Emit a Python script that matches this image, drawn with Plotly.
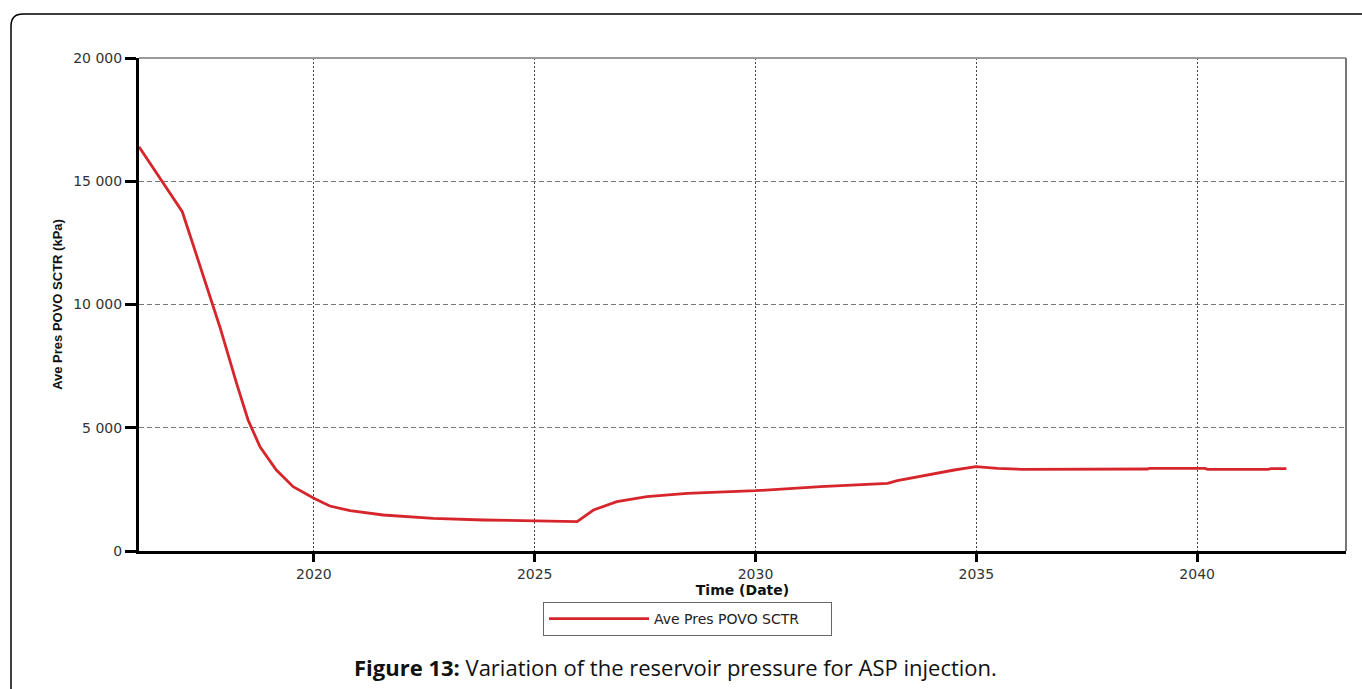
import plotly.graph_objects as go

# Data (decimal years, kPa)
years = [2016.04, 2016.5, 2017.02, 2017.23, 2017.64, 2017.87, 2018.25, 2018.51, 2018.78,
         2019.15, 2019.53, 2020.0, 2020.36, 2020.82, 2021.57, 2022.7, 2023.84, 2024.97,
         2025.96, 2026.33, 2026.86, 2027.54, 2028.45, 2030.0, 2031.47, 2032.99, 2033.21,
         2034.5, 2034.99, 2035.48, 2036.05, 2038.88, 2038.92, 2040.17, 2040.24, 2041.6,
         2041.68, 2042.02]
pressure = [16400, 15150, 13765, 12617, 10316, 9099, 6803, 5314, 4231,
            3286, 2609, 2138, 1826, 1635, 1460, 1325, 1258, 1217,
            1189, 1663, 2000, 2203, 2340, 2446, 2609, 2746, 2852,
            3286, 3420, 3355, 3314, 3327, 3355, 3355, 3314, 3314,
            3340, 3340]

x_ticks = [2020, 2025, 2030, 2035, 2040]
y_ticks = [0, 5000, 10000, 15000, 20000]
y_tick_text = ["0", "5 000", "10 000", "15 000", "20 000"]
series_name = "Ave Pres POVO SCTR"

W, H = 1362, 689
L, R, T, B = 139, 1346, 58, 551
pw, ph = R - L, B - T

def px(xp):
    return (xp - L) / pw

def py(yp):
    return (B - yp) / ph

fig = go.Figure()
fig.add_trace(go.Scatter(
    x=years, y=pressure, mode="lines", name=series_name,
    line=dict(color="#d7262b", width=2.8),
))

fig.update_layout(
    width=W, height=H,
    margin=dict(l=L, r=W - R, t=T, b=H - B, autoexpand=False),
    paper_bgcolor="white", plot_bgcolor="white",
    font=dict(family="DejaVu Sans, Liberation Sans", size=14, color="#333333"),
    showlegend=True,
    legend=dict(
        orientation="h", x=px(543), y=py(602), xanchor="left", yanchor="top",
        bordercolor="#666666", borderwidth=1, bgcolor="white",
        font=dict(family="DejaVu Sans", size=14, color="#222222"),
        itemwidth=100, entrywidth=172,
    ),
    xaxis=dict(
        range=[2016.04, 2043.37], tickvals=x_ticks, ticktext=[str(v) for v in x_ticks],
        showline=True, linecolor="black", linewidth=3,
        ticks="outside", ticklen=8, tickwidth=3, tickcolor="black",
        tickfont=dict(family="DejaVu Sans", size=14, color="#333333"),
        showgrid=True, gridcolor="#444444", gridwidth=1, griddash="2px,2px",
        zeroline=False,
        title=dict(text="<b>Time (Date)</b>", font=dict(family="DejaVu Sans", size=14, color="#111111"), standoff=2),
    ),
    yaxis=dict(
        range=[0, 20000], tickvals=y_ticks, ticktext=y_tick_text,
        showline=True, linecolor="black", linewidth=3,
        ticks="outside", ticklen=11, tickwidth=3, tickcolor="black",
        tickfont=dict(family="DejaVu Sans", size=14, color="#333333"),
        showgrid=True, gridcolor="#777777", gridwidth=1, griddash="5px,3px",
        zeroline=False,
        title=dict(text="<b>Ave Pres POVO SCTR (kPa)</b>",
                   font=dict(family="Liberation Sans Narrow, Arial Narrow, Liberation Sans", size=13, color="#111111"),
                   standoff=8),
    ),
)

# top and right frame lines (gray)
fig.add_shape(type="line", xref="paper", yref="paper", x0=0, x1=1, y0=1, y1=1,
              line=dict(color="#999999", width=2))
fig.add_shape(type="line", xref="paper", yref="paper", x0=1, x1=1, y0=0, y1=1,
              line=dict(color="#777777", width=2))

# outer rounded page frame
r = 12
x0, y0 = 11, 14
path = (f"M {px(x0)},{py(H + 20)} L {px(x0)},{py(y0 + r)} "
        f"Q {px(x0)},{py(y0)} {px(x0 + r)},{py(y0)} L {px(W + 20)},{py(y0)}")
fig.add_shape(type="path", xref="paper", yref="paper", path=path,
              line=dict(color="black", width=1.5))

# caption
fig.add_annotation(
    xref="paper", yref="paper", x=px(675), y=py(667), xanchor="center", yanchor="middle",
    text="<b>Figure 13:</b> Variation of the reservoir pressure for ASP injection.",
    showarrow=False, font=dict(family="Open Sans, Noto Sans", size=22, color="#111111"),
)

fig.write_html("out.html", config={"displayModeBar": False},
               post_script="document.body.style.margin='0';")
